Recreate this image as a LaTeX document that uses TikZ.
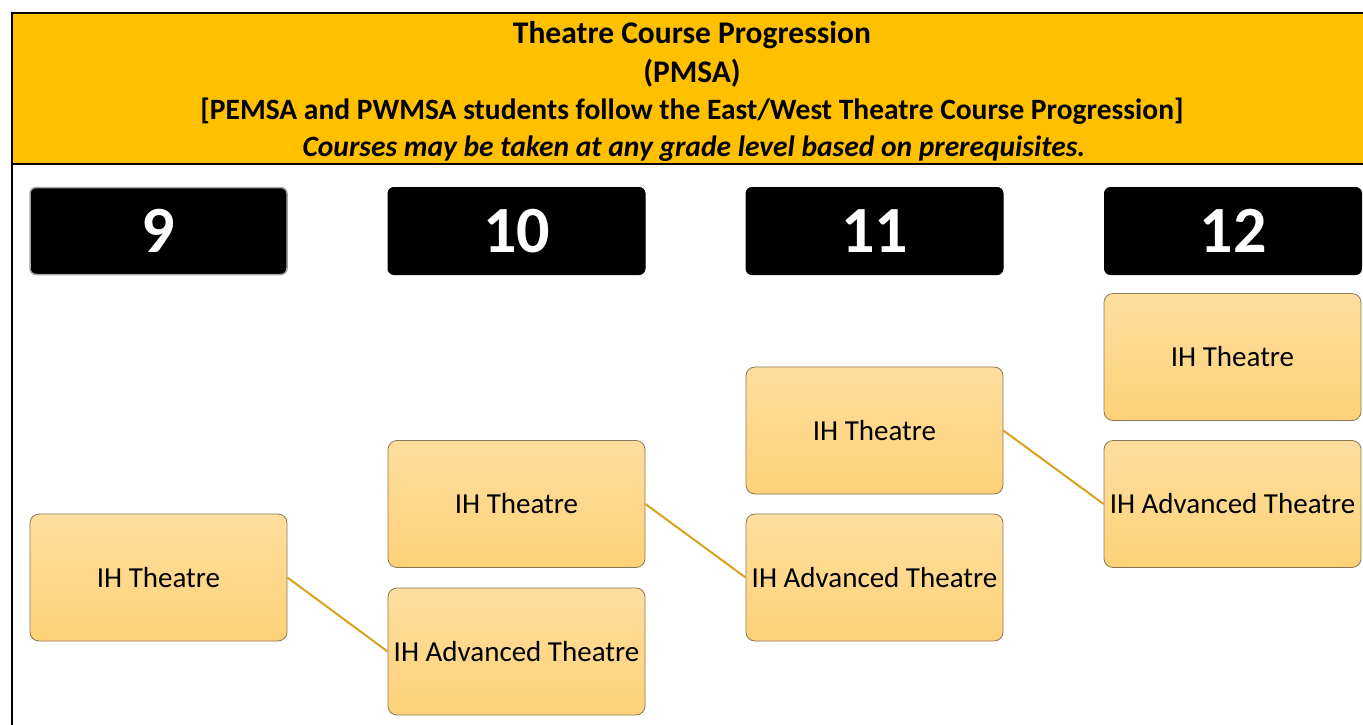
\documentclass[tikz,border=0pt]{standalone}
\usepackage{fontspec}
\setmainfont{Carlito}
\definecolor{hdr}{RGB}{255,192,0}
\definecolor{boxtop}{RGB}{255,222,158}
\definecolor{boxbot}{RGB}{253,210,120}
\definecolor{boxline}{RGB}{140,120,85}
\definecolor{conncol}{RGB}{214,163,28}
\begin{document}
\begin{tikzpicture}[x=1pt,y=-1pt,
  titletext/.style={font=\bfseries\fontsize{31.5}{36}\selectfont, inner sep=0pt, anchor=base},
  subtext/.style={font=\bfseries\fontsize{29.5}{34}\selectfont, inner sep=0pt, anchor=base},
  gradebox/.style={fill=black, draw=black, line width=1pt, rounded corners=6pt,
    minimum width=257pt, minimum height=87pt, inner sep=0pt,
    text=white, font=\bfseries\fontsize{66}{72}\selectfont},
  coursebox/.style={draw=boxline, line width=0.8pt, rounded corners=9pt,
    top color=boxtop, bottom color=boxbot,
    minimum width=257pt, minimum height=127pt, inner sep=0pt,
    font=\fontsize{29}{34}\selectfont},
  conn/.style={draw=conncol, line width=2pt}]
\useasboundingbox (0,0) rectangle (1363,725);
% header
\draw[fill=hdr, line width=2.5pt] (12,13) rectangle (1375,164);
\draw[line width=2.5pt] (12,164) -- (12,735);
\node[titletext] (t1) at (692,44) {Theatre Course Progression};
\node[titletext] (t2) at (692,82) {(PMSA)};
\node[subtext] (t3) at (692,119) {[PEMSA and PWMSA students follow the East/West Theatre Course Progression]};
\node[subtext, font=\bfseries\itshape\fontsize{29.5}{34}\selectfont] (t4) at (694,156) {Courses may be taken at any grade level based on prerequisites.};
% grade boxes
\node[gradebox, draw=gray!70, line width=1.5pt] (g9) at (158.5,231) {9};
\node[gradebox] (g10) at (516.5,231) {10};
\node[gradebox] (g11) at (874.5,231) {11};
\node[gradebox] (g12) at (1233,231) {12};
% course boxes
\node[coursebox] (c9a) at (158.5,577.5) {IH Theatre};
\node[coursebox] (c10a) at (516.5,504) {IH Theatre};
\node[coursebox] (c10b) at (516.5,651.5) {IH Advanced Theatre};
\node[coursebox] (c11a) at (874.5,430.5) {IH Theatre};
\node[coursebox] (c11b) at (874.5,577.5) {IH Advanced Theatre};
\node[coursebox] (c12a) at (1232.5,357) {IH Theatre};
\node[coursebox] (c12b) at (1232.5,504) {IH Advanced Theatre};
% connectors
\draw[conn] (c9a.east) -- (c10b.west);
\draw[conn] (c10a.east) -- (c11b.west);
\draw[conn] (c11a.east) -- (c12b.west);
\end{tikzpicture}
\end{document}
